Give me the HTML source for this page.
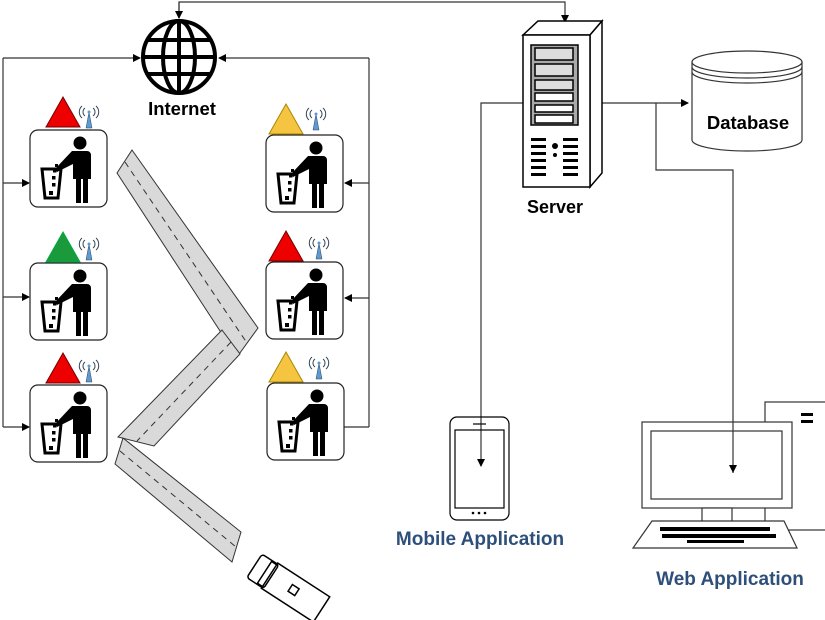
<!DOCTYPE html>
<html><head><meta charset="utf-8"><style>body{margin:0;background:#fff}svg{display:block}text{font-family:"Liberation Sans",sans-serif;font-weight:bold}</style></head><body>
<svg width="825" height="620" viewBox="0 0 825 620" xmlns="http://www.w3.org/2000/svg">
<defs>
<marker id="a" markerWidth="8" markerHeight="8" refX="7" refY="4" orient="auto" markerUnits="userSpaceOnUse"><path d="M0,0L8,4L0,8z" fill="#000"/></marker>
<g id="bin">
<rect x="0" y="0" width="77" height="77" rx="8" fill="#fff" stroke="#222" stroke-width="1.2"/>
<circle cx="50" cy="13" r="6.5" fill="#000"/>
<path d="M42,21 h15 a4,4 0 0 1 4,4 v24 h-3 v24 h-5 v-24 h-2 v24 h-5 v-24 h-3 v-15 l-16,8 -1.5,-3.5 z" fill="#000"/>
<path d="M12,39 h19 l-3,29 h-13 z" fill="none" stroke="#000" stroke-width="3"/>
<rect x="19" y="61" width="4" height="4"/><rect x="22" y="53" width="3.5" height="3.5"/><rect x="22" y="46" width="3.5" height="3.5"/><rect x="23" y="39" width="3.5" height="3.5"/><rect x="25" y="34" width="3" height="3"/>
</g>
<g id="ant"><path d="M-3,22 L0,6 L3,22z" fill="#5b9bd5" stroke="#345" stroke-width=".5"/><circle cx="0" cy="6" r="1.5" fill="#5b9bd5"/><path d="M-4,2 a5,5 0 0 0 0,8 M4,2 a5,5 0 0 1 0,8 M-7,0 a8,8 0 0 0 0,12 M7,0 a8,8 0 0 1 0,12" fill="none" stroke="#345" stroke-width="1"/></g>
</defs>
<g stroke="#333" stroke-width="1.2" fill="none">
<path d="M179,18 V2 H565 V22" marker-end="url(#a)"/>
<path d="M179,2 V18" marker-end="url(#a)"/>
<path d="M3,58 H140" marker-end="url(#a)"/>
<path d="M369,58 H219" marker-end="url(#a)"/>
<path d="M3,58 V427"/><path d="M369,58 V427"/>
<path d="M3,183 H29" marker-end="url(#a)"/><path d="M3,297 H29" marker-end="url(#a)"/><path d="M3,427 H29" marker-end="url(#a)"/>
<path d="M369,183 H345" marker-end="url(#a)"/><path d="M369,298 H345" marker-end="url(#a)"/><path d="M369,427 H329" marker-end="url(#a)"/>
<path d="M523,103 H481 V466" marker-end="url(#a)"/>
<path d="M594,103 H688" marker-end="url(#a)"/>
<path d="M656,103 V170 H733 V473" marker-end="url(#a)"/>
</g>
<g stroke="#000" stroke-width="4" fill="none">
<circle cx="179" cy="57" r="36"/><ellipse cx="179" cy="57" rx="16" ry="36"/><line x1="179" y1="21" x2="179" y2="93"/><line x1="143" y1="57" x2="215" y2="57"/><line x1="148" y1="40" x2="210" y2="40"/><line x1="148" y1="74" x2="210" y2="74"/>
</g>
<text x="182" y="115" font-size="18.5" text-anchor="middle">Internet</text>
<use href="#bin" x="30" y="130"/><use href="#bin" x="30" y="263"/><use href="#bin" x="30" y="385"/>
<use href="#bin" x="266" y="135"/><use href="#bin" x="266" y="262"/><use href="#bin" x="267" y="383"/>
<path d="M63,97 L80,127 H46z" fill="#e00" stroke="#700"/>
<path d="M63,232 L80,262 H46z" fill="#1a9a3a" stroke="#0a4"/>
<path d="M63,353 L80,383 H46z" fill="#e00" stroke="#700"/>
<path d="M286,104 L303,134 H269z" fill="#f5c542" stroke="#a80"/>
<path d="M286,231 L303,261 H269z" fill="#e00" stroke="#700"/>
<path d="M286,352 L303,382 H269z" fill="#f5c542" stroke="#a80"/>
<use href="#ant" x="89" y="106"/><use href="#ant" x="89" y="238"/><use href="#ant" x="89" y="360"/>
<use href="#ant" x="316" y="108"/><use href="#ant" x="319" y="237"/><use href="#ant" x="319" y="357"/>
<g fill="#d9d9d9" stroke="#333" stroke-width="1">
<path d="M132,150 L258,328 L237,357 L117,173z"/>
<path d="M222,330 L240,354 L154,446 L118,437z"/>
<path d="M123,438 L241,532 L232,562 L115,464z"/>
</g>
<g stroke="#333" stroke-dasharray="6,5" fill="none"><path d="M125,162 L247,343"/><path d="M231,342 L137,441"/><path d="M120,451 L236,547"/></g>
<g transform="translate(255,565) rotate(33)" fill="#fff" stroke="#000" stroke-width="1.5">
<rect x="18" y="-14" width="62" height="30"/><rect x="0" y="-13" width="20" height="28" rx="3"/><rect x="12" y="-12" width="6" height="26"/><rect x="42" y="-4" width="8" height="8"/>
</g>
<g stroke="#000" stroke-width="1.5" fill="#fff">
<path d="M523,35 L538,21 H602 L590,35z"/><path d="M590,35 L602,21 V173 L590,187z"/>
<rect x="523" y="35" width="67" height="152"/>
<rect x="531" y="45" width="47" height="80" fill="#aaa"/>
<rect x="535" y="48" width="38" height="12" fill="#ddd"/><rect x="535" y="64" width="38" height="12" fill="#ddd"/><rect x="535" y="80" width="38" height="10" fill="#ddd"/><rect x="535" y="93" width="38" height="8"/><rect x="535" y="105" width="38" height="7"/><rect x="535" y="115" width="38" height="8"/>
</g>
<g fill="#000"><circle cx="555" cy="146" r="3"/><circle cx="555" cy="155" r="2"/>
<rect x="531" y="138" width="15" height="3"/><rect x="531" y="145" width="15" height="3"/><rect x="531" y="152" width="15" height="3"/><rect x="531" y="159" width="15" height="3"/><rect x="531" y="166" width="15" height="3"/><rect x="531" y="173" width="15" height="3"/>
<rect x="563" y="138" width="15" height="3"/><rect x="563" y="145" width="15" height="3"/><rect x="563" y="152" width="15" height="3"/><rect x="563" y="159" width="15" height="3"/><rect x="563" y="166" width="15" height="3"/><rect x="563" y="173" width="15" height="3"/></g>
<text x="555" y="213" font-size="18" text-anchor="middle">Server</text>
<g stroke="#333" stroke-width="1.2" fill="#fff"><path d="M692,62 V140 A55,11 0 0 0 802,140 V62"/><ellipse cx="747" cy="62" rx="55" ry="11"/><path d="M692,67 A55,11 0 0 0 802,67 M692,72 A55,11 0 0 0 802,72" fill="none"/></g>
<text x="748" y="129" font-size="18.5" text-anchor="middle">Database</text>
<g stroke="#000" stroke-width="1.2" fill="none"><rect x="450" y="417" width="59" height="103" rx="7"/><rect x="455" y="430" width="49" height="78"/><line x1="473" y1="424" x2="486" y2="424"/></g>
<g fill="#000"><circle cx="473" cy="513" r="1.3"/><circle cx="479" cy="513" r="1.3"/><circle cx="485" cy="513" r="1.3"/></g>
<text x="480" y="545" font-size="19" fill="#2e4f7a" text-anchor="middle">Mobile Application</text>
<g stroke="#333" stroke-width="1.2" fill="#fff">
<rect x="765" y="402" width="65" height="128"/>
<rect x="642" y="422" width="150" height="86"/><rect x="651" y="431" width="131" height="68"/>
<rect x="702" y="508" width="30" height="14"/>
<path d="M652,521 H784 L797,548 H633z"/>
</g>
<path d="M733,422 V473" stroke="#333" stroke-width="1.2"/>
<path d="M733,473 l-4,-8 h8z" fill="#000"/>
<g fill="#000"><rect x="801" y="413" width="12" height="3"/><rect x="801" y="420" width="12" height="3"/>
<rect x="660" y="527" width="110" height="4"/><rect x="662" y="534" width="114" height="4"/><rect x="687" y="540" width="57" height="3"/></g>
<text x="730" y="585" font-size="19" fill="#2e4f7a" text-anchor="middle">Web Application</text>
</svg>
</body></html>
